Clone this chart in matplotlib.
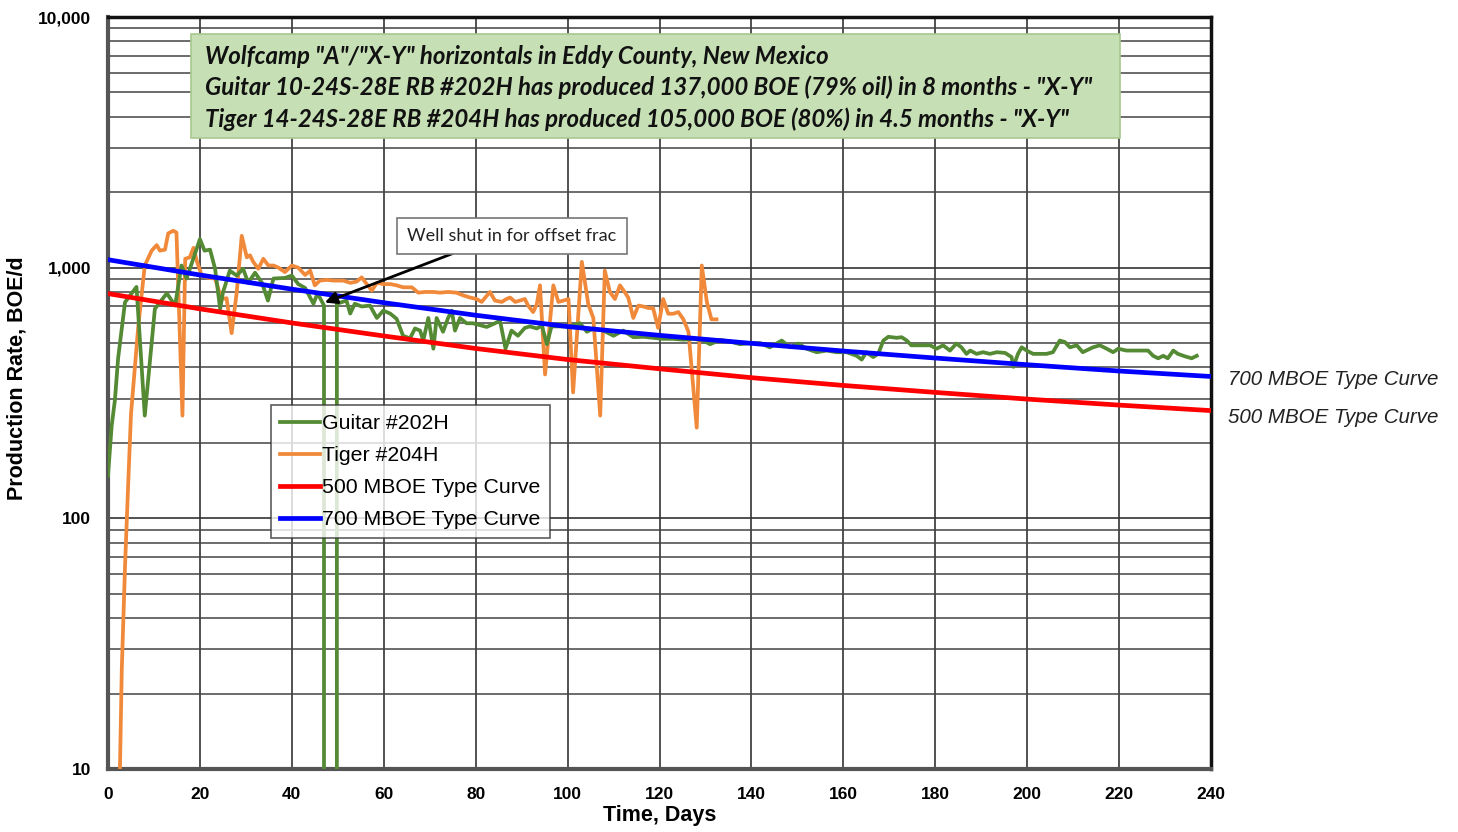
import matplotlib
matplotlib.use("Agg")
import matplotlib.pyplot as plt
from matplotlib.patches import Rectangle
from matplotlib.ticker import FixedLocator, LogLocator, NullFormatter

# %% Data

guitar_days = [0, 0.8, 1.5, 2.2, 3.7, 6.2, 8.0, 10.2, 12.8, 14.6, 16.0, 17.1, 20.0, 21.0, 22.2,
               23.3, 24.4, 25.0, 26.5, 28.0, 29.4, 30.5, 32.0, 33.5, 34.8, 36.0, 38.5, 40.0,
               41.4, 42.9, 44.7, 45.6, 47.0, 47.4, 48.5, 49.5, 49.8, 51.9, 52.7, 53.7, 55.2,
               57.0, 58.5, 59.9, 61.4, 62.8, 64.2, 65.7, 66.8, 67.9, 68.6, 69.7, 70.8, 71.5,
               72.9, 74.0, 74.8, 75.5, 76.6, 78.0, 79.4, 80.9, 82.4, 84.2, 85.3, 86.5, 87.8,
               89.2, 90.7, 91.8, 93.3, 94.4, 95.5, 96.5, 98.3, 100.5, 102.7, 104.2, 105.6,
               107.8, 110.0, 112.1, 114.3, 116.5, 118.7, 120.8, 123.0, 125.2, 127.4, 129.5,
               131.0, 133.2, 135.3, 137.5, 139.7, 141.9, 144.0, 146.6, 148.4, 150.2, 152.0,
               154.2, 156.4, 158.5, 160.7, 162.9, 164.0, 165.0, 166.5, 167.6, 168.7, 169.8,
               171.6, 172.7, 173.8, 174.8, 176.7, 178.9, 180.3, 181.7, 183.2, 184.6, 185.7,
               186.8, 187.6, 189.0, 190.4, 191.9, 193.4, 195.2, 196.6, 197.0, 198.0, 198.8,
               199.9, 201.3, 202.8, 204.2, 205.6, 207.1, 208.2, 209.3, 210.8, 212.1, 214.3,
               215.8, 217.3, 218.7, 219.8, 221.6, 223.0, 224.9, 226.3, 227.4, 228.5, 229.6,
               230.6, 231.8, 232.8, 234.3, 235.8, 236.9]
guitar_rate = [148, 234, 296, 435, 728, 838, 257, 685, 790, 706, 1020, 905, 1300, 1169, 1180,
               990, 685, 795, 973, 930, 990, 870, 955, 870, 739, 905, 910, 930,
               860, 830, 718, 790, 706, 0, 0, 0, 718, 739, 656, 718, 700,
               706, 630, 674, 656, 625, 535, 522, 572, 561, 512, 630, 475, 630,
               555, 630, 674, 561, 630, 600, 600, 590, 580, 600, 615, 475, 561,
               535, 575, 583, 572, 588, 495, 583, 583, 583, 600, 555, 572,
               561, 535, 561, 528, 530, 525, 520, 520, 516, 520, 512,
               495, 515, 508, 495, 500, 500, 481, 512, 481, 498, 475,
               460, 467, 460, 460, 445, 430, 460, 440, 453, 512, 530,
               525, 528, 512, 490, 490, 490, 475, 490, 467, 498, 481,
               453, 467, 453, 460, 453, 460, 457, 440, 402, 453, 481,
               467, 453, 453, 453, 460, 512, 505, 481, 490, 460, 481,
               490, 475, 460, 475, 467, 467, 467, 467, 445, 435, 445,
               435, 467, 453, 443, 435, 445]

tiger_days = [2.0, 2.6, 3.0, 3.7, 4.4, 5.0, 6.6, 8.0, 9.5, 10.6, 11.3, 12.4, 13.1, 14.2, 14.9,
              16.2, 16.8, 17.8, 18.6, 19.3, 20.4, 21.8, 23.3, 24.7, 25.8, 26.9, 28.0, 29.1,
              30.2, 30.9, 31.6, 32.7, 33.8, 34.9, 36.0, 37.1, 38.5, 40.0, 41.4, 42.9, 44.0,
              45.0, 46.1, 47.6, 49.0, 51.2, 52.7, 54.1, 55.2, 56.3, 57.4, 58.5, 59.9, 61.4,
              62.8, 64.2, 66.1, 67.5, 69.0, 70.8, 72.2, 74.0, 75.8, 77.3, 78.8, 80.2, 81.3,
              83.1, 84.2, 85.7, 86.7, 87.5, 88.6, 89.6, 90.7, 91.4, 92.5, 93.3, 94.0, 95.1,
              96.9, 98.0, 99.1, 100.2, 101.2, 103.1, 104.5, 105.6, 107.1, 108.1, 109.2,
              110.3, 111.4, 112.5, 113.2, 114.3, 115.4, 116.5, 117.6, 118.6, 119.7, 120.8,
              121.9, 123.0, 124.1, 125.2, 126.3, 128.1, 129.2, 130.3, 131.3, 132.4]
tiger_rate = [3, 10, 25, 64, 138, 260, 587, 1020, 1169, 1230, 1169, 1180, 1370, 1404, 1380,
              257, 1085, 1100, 1200, 1066, 930, 910, 905, 750, 755, 548, 795, 1340,
              1100, 1120, 1055, 990, 1085, 1020, 1020, 1000, 960, 1020, 1000, 935, 973,
              850, 888, 894, 888, 888, 870, 880, 915, 860, 810, 870, 860, 860,
              850, 835, 835, 795, 800, 800, 795, 800, 795, 775, 760, 750, 730,
              800, 739, 730, 750, 760, 730, 739, 750, 706, 665, 715, 850, 375,
              850, 730, 739, 750, 318, 1055, 715, 630, 257, 973, 800,
              750, 850, 795, 760, 630, 706, 700, 690, 690, 575, 750,
              655, 655, 665, 622, 555, 230, 1020, 730, 622, 622]

type_days = [0, 20, 40, 60, 80, 100, 120, 140, 160, 180, 200, 220, 240]
type_500 = [788, 685, 602, 534, 476, 430, 395, 364, 339, 318, 299, 283, 269]
type_700 = [1076, 935, 821, 725, 646, 582, 537, 499, 465, 436, 410, 387, 368]

x_ticks = list(range(0, 241, 20))
y_ticks = [10, 100, 1000, 10000]
y_tick_labels = ["10", "100", "1,000", "10,000"]

title_lines = [
    'Wolfcamp "A"/"X-Y" horizontals in Eddy County, New Mexico',
    'Guitar 10-24S-28E RB #202H has produced 137,000 BOE (79% oil) in 8 months - "X-Y"',
    'Tiger 14-24S-28E RB #204H has produced 105,000 BOE (80%) in 4.5 months - "X-Y"',
]

# %% Plot

plt.rcParams["font.family"] = ["Liberation Sans", "DejaVu Sans"]

fig = plt.figure(figsize=(14.58, 8.32), dpi=100)
ax = fig.add_axes([108 / 1458, 1 - 769 / 832, 1103 / 1458, 752 / 832])

ax.set_yscale("log")
ax.set_xlim(0, 240)
ax.set_ylim(10, 10000)

ax.plot(guitar_days, guitar_rate, color="#538a33", lw=2.7, label="Guitar #202H", zorder=4)
ax.plot(tiger_days, tiger_rate, color="#f0893a", lw=2.7, label="Tiger #204H", zorder=3)
ax.plot(type_days, type_500, color="#ff0000", lw=3.4, label="500 MBOE Type Curve", zorder=5)
ax.plot(type_days, type_700, color="#0000ff", lw=3.4, label="700 MBOE Type Curve", zorder=5)

ax.xaxis.set_major_locator(FixedLocator(x_ticks))
ax.yaxis.set_major_locator(FixedLocator(y_ticks))
ax.set_yticklabels(y_tick_labels)
ax.yaxis.set_minor_locator(LogLocator(base=10, subs=range(2, 10)))
ax.yaxis.set_minor_formatter(NullFormatter())
ax.tick_params(which="both", length=0)
ax.tick_params(axis="y", pad=12, labelsize=12.5)
ax.tick_params(axis="x", pad=13, labelsize=12.5)
for lab in ax.get_xticklabels() + ax.get_yticklabels():
    lab.set_fontweight("bold")

ax.grid(True, which="major", axis="both", color="#333333", lw=1.2, zorder=0)
ax.grid(True, which="minor", axis="y", color="#444444", lw=1.1, zorder=0)
ax.set_axisbelow(True)

for side in ["top", "right"]:
    ax.spines[side].set_color("#111111")
    ax.spines[side].set_linewidth(2.5)
for side in ["left", "bottom"]:
    ax.spines[side].set_color("#555555")
    ax.spines[side].set_linewidth(3.0)

ax.set_xlabel("Time, Days", fontsize=15.5, fontweight="bold", labelpad=2)
fig.text(17 / 1458, 1 - 378 / 832, "Production Rate, BOE/d", fontsize=15.5,
         fontweight="bold", rotation=90, ha="center", va="center")

# title box
ax.add_patch(Rectangle((0.0752, 0.839), 0.8423, 0.138, transform=ax.transAxes,
                       facecolor="#c6dfb4", edgecolor="#a8c88e", lw=1.2, zorder=6))
for i, line in enumerate(title_lines):
    ax.text(0.088, 0.948 - i * 0.042, line, transform=ax.transAxes, fontsize=17.3,
            family="Lato", fontweight="bold", fontstyle="italic", va="center",
            ha="left", color="#111111", zorder=7)

# annotation
ax.annotate("", xy=(46.6, 719), xytext=(75.5, 1148),
            arrowprops=dict(arrowstyle="-|>", color="black", lw=2.0, mutation_scale=18),
            zorder=8)
ax.text(87.9, 1341, "Well shut in for offset frac", fontsize=13, family="Lato",
        ha="center", va="center", color="#222222", zorder=8,
        bbox=dict(boxstyle="square,pad=0.55", facecolor="white", edgecolor="#777777", lw=1.2))

# right-side labels
ax.text(1.0154, 0.5186, "700 MBOE Type Curve", transform=ax.transAxes, fontsize=14.8,
        fontstyle="italic", color="#222222", va="center", ha="left", clip_on=False)
ax.text(1.0154, 0.468, "500 MBOE Type Curve", transform=ax.transAxes, fontsize=14.8,
        fontstyle="italic", color="#222222", va="center", ha="left", clip_on=False)

leg = ax.legend(loc="upper left", bbox_to_anchor=(0.1478, 0.484), borderaxespad=0,
                fontsize=15.3, frameon=True, fancybox=False, handlelength=1.9,
                handletextpad=0.1, labelspacing=0.62, borderpad=0.42)
leg.get_frame().set_edgecolor("#333333")
leg.get_frame().set_linewidth(1.2)
leg.set_zorder(9)

fig.savefig("out.png", dpi=100)
